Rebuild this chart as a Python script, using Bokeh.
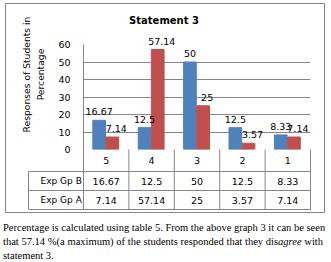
import math
from bokeh.plotting import figure
from bokeh.models import Range1d, FixedTicker, Div
from bokeh.layouts import column
from bokeh.embed import file_html
from bokeh.resources import INLINE
from bokeh.core.properties import value

# ---------------- data ----------------
categories = ["5", "4", "3", "2", "1"]
series_names = ["Exp Gp B", "Exp Gp A"]
exp_gp_b = [16.67, 12.5, 50, 12.5, 8.33]
exp_gp_a = [7.14, 57.14, 25, 3.57, 7.14]
y_ticks = [0, 10, 20, 30, 40, 50, 60]
title_text = "Statement 3"
y_label_lines = ["Responses of Students in", "Percentage"]
para_line1 = "Percentage is calculated using table 5. From the above graph 3  it can be seen"
para_line2_a = "that 57.14 %(a maximum) of the students responded that they dis"
para_line2_b = "agree"
para_line2_c = " with"
para_line3 = "statement 3."

# ---------------- geometry (canvas px) ----------------
W, H = 330, 214
FL, FR, FT, FB = 83, 310, 44, 149
YMAX = 60
n = len(categories)
BLUE = "#4F81BD"
RED = "#C0504D"
GRID = "#868686"
FONT = "DejaVu Sans"


def X(px):
    return (px - FL) / (FR - FL) * n


def Y(py):
    return (FB - py) / (FB - FT) * YMAX


p = figure(width=W, height=H, x_range=Range1d(0, n), y_range=Range1d(0, YMAX),
           output_backend="svg", toolbar_location=None,
           min_border_left=FL, min_border_right=W - FR,
           min_border_top=FT, min_border_bottom=H - FB)
p.outline_line_color = None
p.background_fill_color = "white"
p.border_fill_color = "white"
p.xaxis.visible = False
p.xgrid.visible = False
p.ygrid.ticker = FixedTicker(ticks=y_ticks)
p.ygrid.grid_line_color = GRID
p.yaxis.ticker = FixedTicker(ticks=y_ticks)
p.yaxis.major_tick_line_color = None
p.yaxis.minor_tick_line_color = None
p.yaxis.major_tick_out = 0
p.yaxis.major_tick_in = 0
p.yaxis.axis_line_color = GRID
p.yaxis.major_label_standoff = 13
p.yaxis.major_label_text_font = FONT
p.yaxis.major_label_text_font_size = "9.5px"
p.yaxis.major_label_text_color = "black"

TXT = dict(text_font=value(FONT), text_font_size="9.5px", text_color="black", level="overlay")

# bars
bw = 0.28
centers = [i + 0.5 for i in range(n)]
xb = [c - 0.155 for c in centers]
xa = [c + 0.135 for c in centers]
p.vbar(x=xb, top=exp_gp_b, width=bw, color=BLUE)
p.vbar(x=xa, top=exp_gp_a, width=bw, color=RED)

# data labels
p.text(x=xb, y=exp_gp_b, text=[f"{v:g}" for v in exp_gp_b], text_align="center",
       text_baseline="bottom", y_offset=-5, **TXT)
p.text(x=xa, y=exp_gp_a, text=[f"{v:g}" for v in exp_gp_a], text_align="center",
       text_baseline="bottom", y_offset=-5, x_offset=4, **TXT)

# outer border
p.quad(left=[X(5)], right=[X(324)], top=[Y(3)], bottom=[Y(212)], fill_color=None,
       line_color=GRID, level="overlay")

# data table
rows_px = [149, 171, 190, 209]
LEGL = 28
ys = [Y(r) for r in rows_px]
x0s, y0s, x1s, y1s = [], [], [], []
for r in ys[1:]:
    x0s.append(X(LEGL)); x1s.append(n); y0s.append(r); y1s.append(r)
for i in range(n + 1):
    x0s.append(i); x1s.append(i); y0s.append(ys[0]); y1s.append(ys[-1])
x0s.append(X(LEGL)); x1s.append(X(LEGL)); y0s.append(ys[1]); y1s.append(ys[-1])
p.segment(x0=x0s, y0=y0s, x1=x1s, y1=y1s, line_color=GRID, level="overlay")

row_mid = [(ys[k] + ys[k + 1]) / 2 for k in range(3)]
p.text(x=centers, y=[row_mid[0]] * n, text=categories, text_align="center",
       text_baseline="middle", **TXT)
p.text(x=centers, y=[row_mid[1]] * n, text=[f"{v:g}" for v in exp_gp_b], text_align="center",
       text_baseline="middle", **TXT)
p.text(x=centers, y=[row_mid[2]] * n, text=[f"{v:g}" for v in exp_gp_a], text_align="center",
       text_baseline="middle", **TXT)

# legend keys in table
p.scatter(x=[X(34.5)] * 2, y=row_mid[1:], marker="square", size=6,
          color=[BLUE, RED], level="overlay")
p.text(x=[X(40)] * 2, y=row_mid[1:], text=series_names, text_align="left",
       text_baseline="middle", text_font=value(FONT), text_font_size="9px",
       text_color="black", level="overlay")

# title
p.text(x=[X(163.5)], y=[Y(20)], text=[title_text], text_align="center",
       text_baseline="middle", text_font=value(FONT), text_font_style="bold",
       text_font_size="10px", text_color="black", level="overlay")
# y-axis label (two lines)
p.text(x=[X(26), X(40)], y=[Y(74), Y(74)], text=y_label_lines, angle=math.pi / 2,
       text_align="center", text_baseline="middle", text_font=value(FONT),
       text_font_size="9.2px", text_color="black", level="overlay")

line_style = "white-space:nowrap;"
html = (
    '<div style="font-family:\'Liberation Serif\',\'Times New Roman\',serif;font-size:10.5px;'
    'line-height:14px;color:#000;padding-top:7px;padding-left:3px;width:323px;">'
    f'<div style="{line_style}text-align:justify;text-align-last:justify;">{para_line1}</div>'
    f'<div style="{line_style}text-align:justify;text-align-last:justify;">{para_line2_a}'
    f'<i>{para_line2_b}</i>{para_line2_c}</div>'
    f'<div style="{line_style}">{para_line3}</div>'
    '</div>'
)
div = Div(text=html, width=330, height=47, margin=(0, 0, 0, 0))

layout = column(p, div, spacing=0)
open("out.html", "w").write(file_html(layout, INLINE))
